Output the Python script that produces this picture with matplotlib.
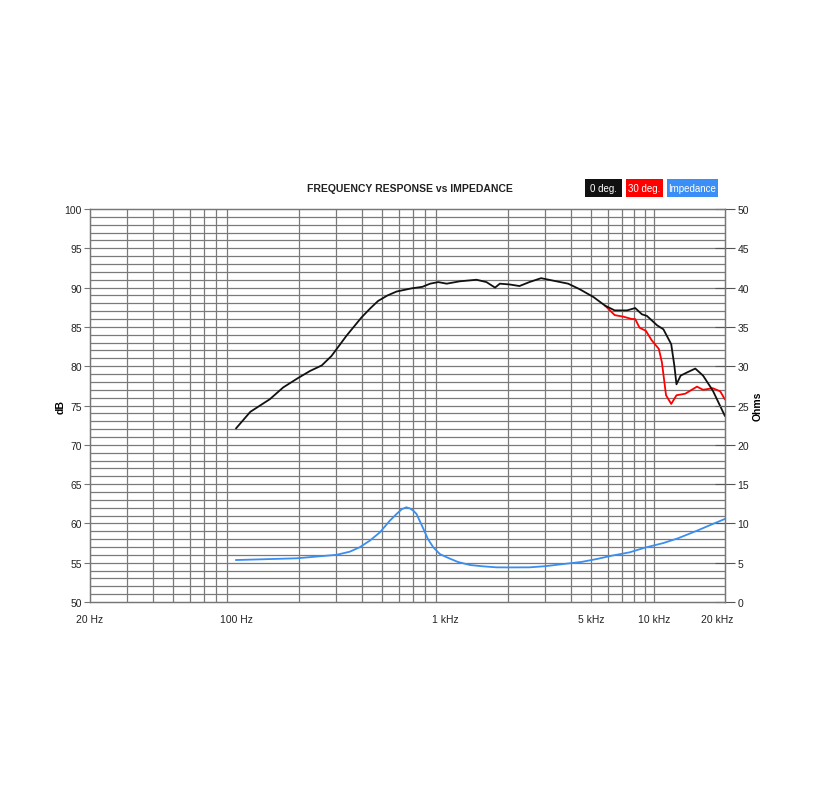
import numpy as np
import matplotlib
matplotlib.use('Agg')
import matplotlib.pyplot as plt
from matplotlib.patches import Rectangle
from matplotlib.ticker import FixedLocator, NullFormatter

plt.rcParams['font.family'] = ['Liberation Sans', 'DejaVu Sans']

# 0 deg. (dB)
f0 = [100, 117, 145, 168, 198, 226, 257, 286, 338, 398, 440, 478, 530, 586, 690, 779, 848, 928,
      1018, 1176, 1414, 1578, 1734, 1828, 2036, 2270, 2530, 2880, 3270, 3880, 4400,
      5130, 5830, 6480, 7430, 8120, 8750, 9240, 10340, 11080, 12080, 12500, 12800,
      13400, 14360, 15750, 17160, 19100, 21800]
db0 = [72.1, 74.2, 75.8, 77.3, 78.5, 79.4, 80.1, 81.3, 83.9, 86.2, 87.4, 88.3, 89.0, 89.5, 89.9, 90.1,
       90.5, 90.7, 90.5, 90.8, 91.0, 90.7, 90.0, 90.5, 90.4, 90.2, 90.7, 91.2, 90.9, 90.5,
       89.8, 88.8, 87.7, 87.1, 87.1, 87.4, 86.6, 86.4, 85.2, 84.7, 82.8, 80.1, 77.7,
       78.8, 79.2, 79.7, 78.8, 76.9, 73.7]

# 30 deg. (dB)
f30 = [5830, 6480, 7140, 7830, 8120, 8520, 9140, 9740, 10540, 10900, 11410, 12080,
       12800, 14100, 16040, 17160, 19100, 20730, 21800]
db30 = [87.7, 86.5, 86.3, 86.0, 86.0, 84.9, 84.5, 83.3, 82.2, 80.5, 76.3, 75.2,
        76.3, 76.5, 77.4, 77.0, 77.2, 76.8, 75.8]

# impedance (Ohms)
fz = [100, 195, 302, 350, 390, 436, 488, 544, 586, 620, 652, 680, 706, 730, 788, 828,
      878, 944, 1018, 1150, 1314, 1500, 1760, 2000, 2530, 3000, 3680, 4500, 5320, 6300,
      7640, 9000, 11080, 13000, 16040, 19000, 21800]
ohm = [5.34, 5.56, 6.0, 6.4, 6.96, 7.8, 8.87, 10.35, 11.2, 11.8, 12.05, 11.9, 11.6, 11.2,
       9.29, 8.0, 6.96, 6.1, 5.69, 5.1, 4.71, 4.55, 4.41, 4.4, 4.41, 4.55, 4.83, 5.1, 5.47,
       5.9, 6.32, 6.9, 7.5, 8.1, 9.07, 9.9, 10.56]

xt = [20, 100, 1000, 5000, 10000, 20000]
xtl = ['20 Hz', '100 Hz', '1 kHz', '5 kHz', '10 kHz', '20 kHz']

fig = plt.figure(figsize=(8.17, 8.04), dpi=100)
ax = fig.add_axes([0.1102, 0.25, 0.7772, 0.4888])
ax2 = ax.twinx()

ax.set_xscale('log')
ax.set_xlim(20, 21850)
ax.set_ylim(50, 100)
ax2.set_ylim(0, 50)

# grid
vlines = [m * d for d in (10, 100, 1000) for m in range(2, 10)] + [10000]
vlines = [v for v in vlines if v >= 30]
for v in vlines:
    ax.axvline(v, color='#7a7a7a', lw=0.9, zorder=0)
for h in range(51, 100):
    ax.axhline(h, color='#7a7a7a', lw=0.9, zorder=0)

# curves
ax.plot(f0, db0, color='#111111', lw=1.3, zorder=3, solid_joinstyle='round')
ax.plot(f30, db30, color='#ff0000', lw=1.3, zorder=2, solid_joinstyle='round')
ax2.plot(fz, ohm, color='#3a8ef0', lw=1.3, solid_joinstyle='round')

ax.xaxis.set_major_locator(FixedLocator(xt))
ax.xaxis.set_minor_locator(FixedLocator([]))
ax.xaxis.set_minor_formatter(NullFormatter())
ax.set_xticklabels(xtl)
ax.tick_params(axis='x', length=0, pad=9, labelsize=7.5, colors='#222222')
ax.set_yticks(range(50, 101, 5))
ax.tick_params(axis='y', length=4, width=0.8, color='#777777', labelsize=7.5,
               labelcolor='#222222', pad=2)
ax2.set_yticks(range(0, 51, 5))
ax2.tick_params(axis='y', direction='inout', length=14, width=0.8, color='#555555',
                labelsize=7.5, labelcolor='#222222', pad=2)

for a in (ax, ax2):
    for s in a.spines.values():
        s.set_color('#777777')
        s.set_linewidth(0.9)

ax.set_ylabel('dB', fontsize=7.5, fontweight='bold')
ax.yaxis.set_label_coords(-0.038, 0.5)
ax2.set_ylabel('Ohms', fontsize=7.5, fontweight='bold')
ax2.yaxis.set_label_coords(1.044, 0.5)

fig.text(410 / 817, 1 - 189 / 804, 'FREQUENCY RESPONSE vs IMPEDANCE', ha='center', va='center',
         fontsize=7.5, fontweight='bold', color='#222222')
for x0, x1, lab, col in [(585, 622, '0 deg.', '#111111'), (626, 663, '30 deg.', '#ff0000'),
                         (667, 718, 'Impedance', '#3a8ef6')]:
    fig.patches.append(Rectangle((x0 / 817, 1 - 198 / 804), (x1 - x0) / 817, 18 / 804,
                                 transform=fig.transFigure, fc=col, ec='none'))
    fig.text((x0 + x1) / 2 / 817, 1 - 189 / 804, lab, ha='center', va='center',
             fontsize=7, color='white')

fig.savefig('out.png', dpi=100, facecolor='white')
